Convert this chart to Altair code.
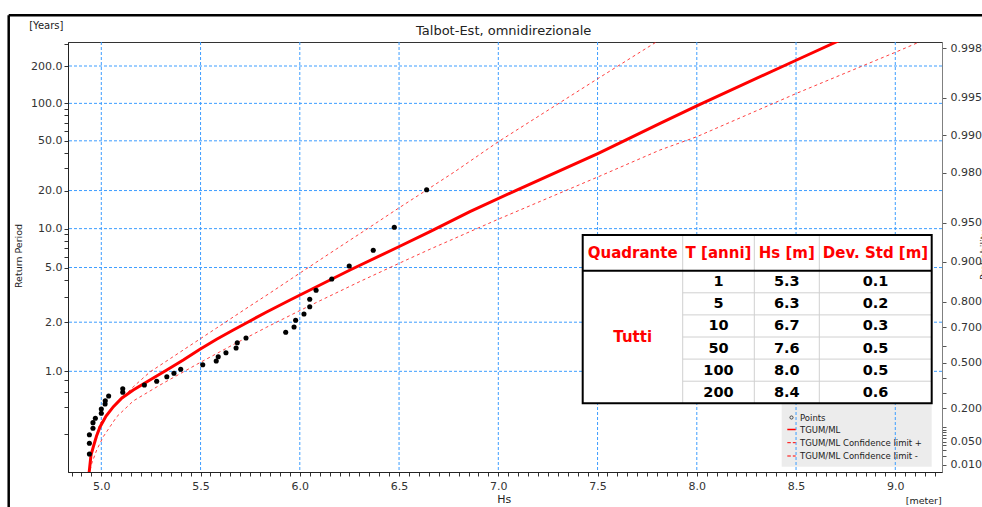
import math
import altair as alt
import pandas as pd

RATE = 1.8  # mean number of storm events per year (links return period and probability)

# ---- observed sample: significant wave height [m] and empirical return period [years]
points_hs = [4.940, 4.940, 4.940, 4.958, 4.958, 4.970, 5.000, 5.000, 5.019, 5.020,
             5.037, 5.108, 5.108, 5.217, 5.279, 5.330, 5.366, 5.400, 5.511, 5.579,
             5.589, 5.628, 5.679, 5.685, 5.729, 5.929, 5.971, 5.979, 6.021, 6.050,
             6.050, 6.082, 6.161, 6.249, 6.370, 6.476, 6.639]
points_T = [0.5687, 0.5820, 0.5985, 0.6149, 0.6325, 0.6486, 0.6697, 0.6903, 0.7175, 0.7374,
            0.7687, 0.7958, 0.8246, 0.8567, 0.8914, 0.9387, 0.9767, 1.0249, 1.0855, 1.1386,
            1.2053, 1.2727, 1.3590, 1.4661, 1.5705, 1.7110, 1.8557, 2.0611, 2.2794, 2.5663,
            2.9010, 3.3742, 4.0948, 5.1355, 6.776, 10.245, 20.32]

# ---- TGUM/ML fitted curve
fit_hs = [4.937, 4.948, 4.960, 4.976, 4.994, 5.024, 5.061, 5.104, 5.161, 5.245,
          5.330, 5.413, 5.497, 5.581, 5.665, 5.733, 5.833, 5.951, 6.102, 6.253,
          6.496, 6.656, 6.857, 7.093, 7.504, 7.815, 8.008, 8.503, 8.705, 8.822]
fit_T = [0.5575, 0.5677, 0.5770, 0.5957, 0.6196, 0.6579, 0.7024, 0.7550, 0.8140, 0.9043,
         1.0162, 1.1535, 1.3343, 1.5407, 1.7720, 1.9841, 2.3540, 2.8669, 3.6936, 4.7893,
         7.189, 9.459, 13.59, 20.20, 39.71, 69.10, 96.99, 223.6, 313.8, 382.6]

# ---- confidence limits of the fit
upper_hs = [4.937, 4.947, 4.968, 4.994, 5.078, 5.160, 5.245, 5.413, 5.497, 5.581,
            5.749, 5.850, 6.001, 6.186, 6.354, 6.495, 6.639, 6.782, 7.000, 7.504,
            7.798, 7.915]
upper_T = [0.5575, 0.5639, 0.5877, 0.6304, 0.7215, 0.8390, 0.9919, 1.3211, 1.5474, 1.8275,
           2.5961, 3.2244, 4.5444, 6.960, 10.298, 14.411, 20.20, 28.38, 49.17, 159.2,
           313.8, 411.8]
lower_hs = [4.937, 4.952, 4.977, 5.010, 5.078, 5.161, 5.296, 5.497, 5.665, 5.833,
            6.001, 6.102, 6.303, 6.520, 6.656, 7.000, 7.504, 7.815, 8.000, 8.503,
            9.007, 9.124, 9.276]
lower_T = [0.5575, 0.5619, 0.5729, 0.5942, 0.6551, 0.7356, 0.8567, 1.1150, 1.4263, 1.8500,
           2.4120, 2.8339, 3.9231, 5.557, 6.912, 11.861, 25.78, 42.21, 53.93, 120.55,
           260.7, 313.8, 396.8]

# ---- summary table
table_header = ["Quadrante", "T [anni]", "Hs [m]", "Dev. Std [m]"]
table_group = "Tutti"
table_T = ["1", "5", "10", "50", "100", "200"]
table_hs = ["5.3", "6.3", "6.7", "7.6", "8.0", "8.4"]
table_std = ["0.1", "0.2", "0.3", "0.5", "0.5", "0.6"]

legend_labels = ["Points", "TGUM/ML", "TGUM/ML Confidence limit +", "TGUM/ML Confidence limit -"]

# ---- axis ticks
period_major = [1, 2, 5, 10, 20, 50, 100, 200]
period_minor = [0.6, 0.7, 0.8, 0.9, 3, 4, 6, 7, 8, 9, 30, 40, 60, 70, 80, 90, 300]
prob_major = [0.01, 0.05, 0.2, 0.5, 0.7, 0.8, 0.9, 0.95, 0.98, 0.99, 0.995, 0.998]
prob_minor = [0.02, 0.03, 0.04, 0.06, 0.07, 0.08, 0.09, 0.1, 0.3, 0.4, 0.6]
hs_major = [5.0, 5.5, 6.0, 6.5, 7.0, 7.5, 8.0, 8.5, 9.0]
hs_ticks = [round(4.85 + 0.05 * i, 2) for i in range(88)]


def u_of_period(t):
    return -math.log(-math.log(1.0 - 1.0 / (RATE * t)))


def u_of_prob(p):
    return -math.log(-math.log(p))


U_EXPR = f"-log(-log(1 - 1/({RATE}*datum.T)))"
T_EXPR = f"1/({RATE}*(1-exp(-exp(-datum.value))))"
P_EXPR = "exp(-exp(-datum.value))"

FONT = "DejaVu Sans"
W, H = 874, 430
X_SCALE = alt.Scale(domain=[4.8322, 9.2353], nice=False, zero=False)
Y_SCALE = alt.Scale(domain=[-1.662, 6.331], nice=False, zero=False)
GRID_BLUE = "#3d9dff"
RED = "#ff0000"


def X(field, axis=None):
    return alt.X(field, type="quantitative", scale=X_SCALE, axis=axis)


def Y(field, axis=None):
    return alt.Y(field, type="quantitative", scale=Y_SCALE, axis=axis)


one = pd.DataFrame({"a": [0]})


def label(text, x, y, size, align="center", angle=0, color="#222", weight="normal"):
    return alt.Chart(pd.DataFrame({"t": [text]})).mark_text(
        font=FONT, fontSize=size, color=color, align=align, baseline="middle",
        angle=angle, fontWeight=weight
    ).encode(x=alt.value(x), y=alt.value(y), text="t:N")


def hrule(x0, x1, y, color, width=1, dash=None):
    kw = {"strokeDash": dash} if dash else {}
    return alt.Chart(one).mark_rule(color=color, strokeWidth=width, **kw).encode(
        x=alt.value(x0), x2=alt.value(x1), y=alt.value(y))


def vrule(x, y0, y1, color, width=1):
    return alt.Chart(one).mark_rule(color=color, strokeWidth=width).encode(
        x=alt.value(x), y=alt.value(y0), y2=alt.value(y1))


def box(x0, x1, y0, y1, **style):
    return alt.Chart(one).mark_rect(**style).encode(
        x=alt.value(x0), x2=alt.value(x1), y=alt.value(y0), y2=alt.value(y1))


# ---------------- grid ----------------
vgrid = alt.Chart(pd.DataFrame({"hs": hs_major})).mark_rule(
    color=GRID_BLUE, strokeDash=[3, 2], strokeWidth=1
).encode(x=X("hs:Q"))
hgrid = alt.Chart(pd.DataFrame({"T": period_major})).transform_calculate(u=U_EXPR).mark_rule(
    color=GRID_BLUE, strokeDash=[3, 2], strokeWidth=1
).encode(y=Y("u:Q"))

# ---------------- series ----------------
conf_df = pd.concat([
    pd.DataFrame({"hs": upper_hs, "T": upper_T, "s": "upper"}),
    pd.DataFrame({"hs": lower_hs, "T": lower_T, "s": "lower"}),
])
conf = alt.Chart(conf_df).transform_calculate(u=U_EXPR).mark_line(
    color="#ff2020", strokeWidth=1, strokeDash=[3, 3], clip=True, opacity=0.85
).encode(x=X("hs:Q"), y=Y("u:Q"), detail="s:N")

fit = alt.Chart(pd.DataFrame({"hs": fit_hs, "T": fit_T})).transform_calculate(u=U_EXPR).mark_line(
    color=RED, strokeWidth=3, clip=True
).encode(x=X("hs:Q"), y=Y("u:Q"))

pts = alt.Chart(pd.DataFrame({"hs": points_hs, "T": points_T})).transform_calculate(u=U_EXPR).mark_circle(
    color="black", size=26, opacity=1, clip=True
).encode(x=X("hs:Q"), y=Y("u:Q"))

# ---------------- legend box ----------------
LEG_X0, LEG_X1, LEG_Y0, LEG_Y1 = 713.7, 863.7, 355, 424.7
LEG_ROWS = [375.5, 387.5, 400.7, 414.0]
LEG_SYM_X0, LEG_SYM_X1, LEG_TEXT_X = 719.3, 727.7, 732

legend_bg = box(LEG_X0, LEG_X1, LEG_Y0, LEG_Y1, color="#ececec")
legend_marks = [
    alt.Chart(one).mark_point(shape="circle", size=10, color="black", strokeWidth=1, filled=False).encode(
        x=alt.value((LEG_SYM_X0 + LEG_SYM_X1) / 2), y=alt.value(LEG_ROWS[0])),
    hrule(LEG_SYM_X0, LEG_SYM_X1, LEG_ROWS[1], RED, 1.5),
    hrule(LEG_SYM_X0, LEG_SYM_X1, LEG_ROWS[2], RED, 1, [3.5, 2]),
    hrule(LEG_SYM_X0, LEG_SYM_X1, LEG_ROWS[3], RED, 1, [3.5, 2]),
]
legend_marks += [label(t, LEG_TEXT_X, y, 8.5, align="left") for t, y in zip(legend_labels, LEG_ROWS)]

# ---------------- summary table ----------------
COLS = [514.7, 614.7, 686.3, 751.3, 863.7]
T_TOP, T_HEAD, T_BOT = 193.0, 228.7, 361.3
ROW_H = (T_BOT - T_HEAD) / len(table_T)
ROWS = [T_HEAD + ROW_H * i for i in range(len(table_T) + 1)]
col_mid = [(COLS[i] + COLS[i + 1]) / 2 for i in range(4)]
row_mid = [(ROWS[i] + ROWS[i + 1]) / 2 for i in range(len(table_T))]

table = [box(COLS[0], COLS[-1], T_TOP, T_BOT, color="white")]
table += [vrule(x, T_TOP, T_BOT, "#d0d0d0") for x in COLS[1:4]]
table += [hrule(COLS[1], COLS[-1], y, "#d0d0d0") for y in ROWS[1:-1]]
table += [hrule(COLS[0], COLS[-1], T_HEAD, "black", 2),
          box(COLS[0], COLS[-1], T_TOP, T_BOT, fill=None, stroke="black", strokeWidth=2)]
table += [label(t, x, (T_TOP + T_HEAD) / 2, 15, color=RED, weight="bold")
          for t, x in zip(table_header, col_mid)]
table += [label(table_group, col_mid[0], (T_HEAD + T_BOT) / 2, 15, color=RED, weight="bold")]
for i, row in enumerate(zip(table_T, table_hs, table_std)):
    for j, v in enumerate(row):
        table.append(label(v, col_mid[j + 1], row_mid[i] + 0.5, 14.5, color="black", weight="bold"))

# ---------------- axes ----------------
left_vals = [u_of_period(t) for t in period_major + period_minor]
left_axis = alt.Axis(
    orient="left", values=left_vals, title=None, grid=False,
    labelExpr=f"indexof({period_major}, round(({T_EXPR})*10)/10) >= 0 ? format({T_EXPR}, '.1f') : ''",
    tickSize=4, tickColor="#333", domainColor="#222", labelFont=FONT, labelFontSize=11,
    labelColor="#333", labelPadding=2, labelOverlap=False, labelFlush=False)
left_layer = alt.Chart(pd.DataFrame({"v": left_vals})).mark_point(opacity=0).encode(
    y=Y("v:Q", left_axis))

right_vals = [u_of_prob(p) for p in prob_major + prob_minor]
right_axis = alt.Axis(
    orient="right", values=right_vals, title=None, grid=False,
    labelExpr=f"indexof({prob_major}, round(({P_EXPR})*1000)/1000) >= 0 ? format({P_EXPR}, '.3f') : ''",
    tickSize=4, tickColor="#555", domainColor="#808080", labelFont=FONT, labelFontSize=11,
    labelColor="#333", labelPadding=4, labelOverlap=False, labelFlush=False)
right_layer = alt.Chart(pd.DataFrame({"v": right_vals})).mark_point(opacity=0).encode(
    y=Y("v:Q", right_axis))

x_axis = alt.Axis(
    orient="bottom", values=hs_ticks, title=None, grid=False,
    labelExpr="abs(datum.value*2 - round(datum.value*2)) < 0.001 ? format(datum.value, '.1f') : ''",
    tickSize=4, tickColor="#333", domainColor="#222", labelFont=FONT, labelFontSize=11,
    labelColor="#333", labelPadding=4, labelOverlap=False, labelFlush=False)
x_layer = alt.Chart(pd.DataFrame({"w": hs_ticks})).mark_point(opacity=0).encode(
    x=X("w:Q", x_axis))

# ---------------- titles and units ----------------
titles = [
    label("Talbot-Est, omnidirezionale", 435.7, -11, 13),
    label("[Years]", -21.7, -15.7, 10),
    label("Return Period", -49.5, 214, 9.5, angle=270),
    label("Probability", 915.5, 213, 9.5, angle=270),
    label("Hs", 436.3, 457.5, 11),
    label("[meter]", 873.7, 459, 9.5, align="right"),
]

# outer frame of the figure
frame = [hrule(-59.3, W + 60, -26.7, "black", 2.5), vrule(-59.3, -26.7, H + 60, "black", 2.5)]

chart = alt.layer(
    legend_bg, vgrid, hgrid, conf, fit, pts,
    *table, *legend_marks,
    x_layer, left_layer, right_layer,
    *titles, *frame,
).resolve_axis(
    x="independent", y="independent"
).properties(
    width=W, height=H,
    autosize=alt.AutoSizeParams(type="none"),
    padding={"left": 68, "top": 42, "right": 982 - 68 - W, "bottom": 507 - 42 - H},
    background="white",
).configure_view(
    stroke="#333", strokeWidth=1
)

chart.save("out.html", embed_options={"renderer": "svg", "actions": False})
